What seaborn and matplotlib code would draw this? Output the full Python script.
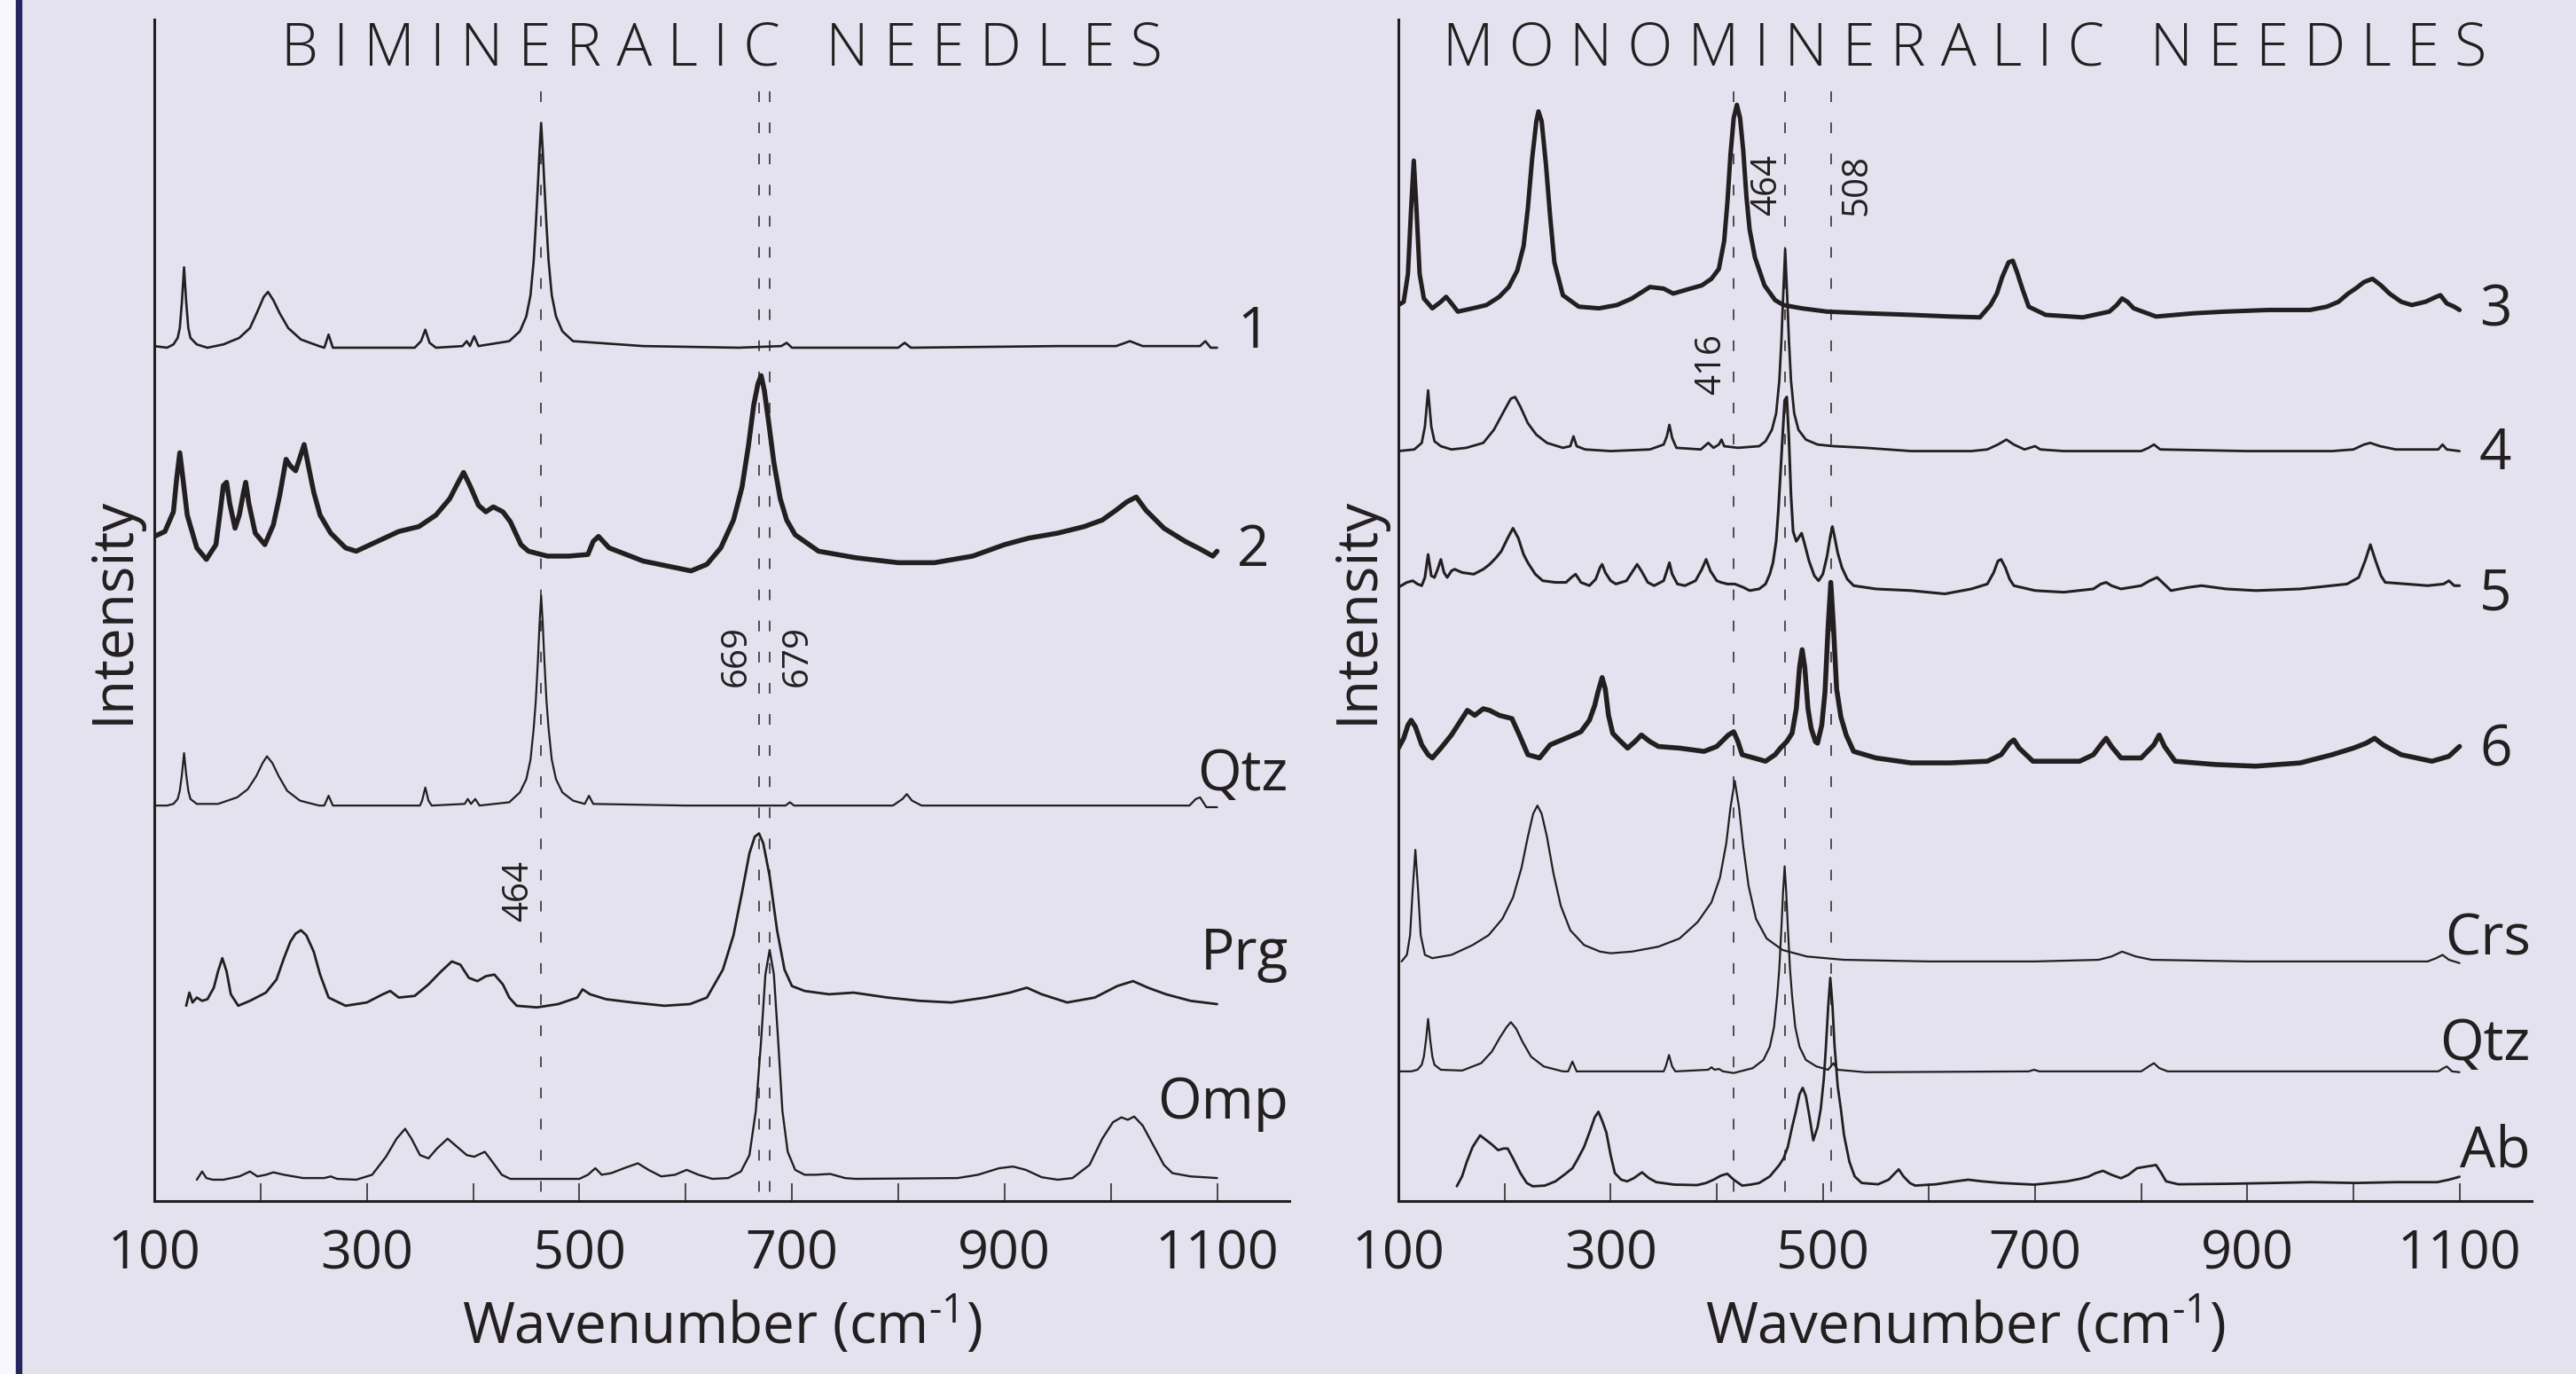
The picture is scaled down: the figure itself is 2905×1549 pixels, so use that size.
import numpy as np
import pandas as pd
import matplotlib
matplotlib.use("Agg")
import matplotlib.pyplot as plt
import seaborn as sns
from matplotlib.patches import Rectangle

# ---------------- data (wavenumber cm-1, intensity in arbitrary offset units) ----------------
spec_1 = [(100,521),(112,520),(118,522),(122,526),(124,532),(126,548),(128,569),(130,548),(132,532),(134,526),
          (140,522),(150,520),(165,522),(180,526),(190,532),(197,542),(203,551),(207,554),(212,549),(218,541),
          (226,532),(238,525),(255,521),(260,520),(264,528),(268,520),(300,520),(345,520),(351,524),(355,531),
          (359,523),(365,520),(390,521),(394,524),(397,521),(401,527),(405,521),(434,524),(444,530),(450,539),
          (454,552),(457,573),(459,595),(461,620),(462.5,640),(464,657),(465.5,640),(467,620),(469,595),(471,573),
          (474,552),(478,539),(484,530),(494,524),(560,521),(650,520),(690,521),(695,523),(700,520),(800,520),
          (806,523),(812,520),(950,521),(1005,521),(1018,524),(1030,521),(1084,521),(1089,524),(1094,520),(1100,520)]

spec_2 = [(100,405),(110,408),(118,420),(121,440),(124,456),(127,440),(131,418),(140,398),(149,391),(158,400),
          (162,420),(165,436),(168,438),(171,425),(176,410),(180,418),(184,432),(186,438),(189,425),(195,407),
          (204,400),(212,412),(218,430),(224,452),(228,448),(233,445),(238,455),(241,461),(245,448),(250,432),
          (256,418),(266,407),(280,398),(290,396),(310,402),(330,408),(349,411),(365,418),(378,428),(386,438),
          (391,444),(397,436),(405,424),(412,420),(419,423),(428,420),(435,414),(445,400),(452,396),(470,393),
          (490,393),(508,394),(513,402),(518,405),(528,398),(560,390),(590,386),(605,384),(620,388),(633,398),
          (645,415),(653,435),(659,460),(664,485),(668,498),(671,503),(674,494),(678,475),(683,450),(689,428),
          (695,415),(703,406),(725,396),(760,392),(800,389),(834,389),(870,393),(900,400),(923,404),(950,407),
          (975,411),(992,415),(1005,421),(1015,426),(1024,429),(1033,421),(1050,410),(1070,402),(1085,397),
          (1096,393),(1100,396)]

qtz_left = [(100,241),(112,241),(118,242),(122,245),(124,250),(126,260),(128,273),(130,260),(132,250),(134,245),
            (140,242),(160,242),(178,246),(188,251),(196,259),(202,267),(206,271),(211,267),(217,259),(225,250),
            (237,244),(255,241),(260,241),(264,247),(268,241),(350,241),(352,244),(355,252),(358,244),(361,241),
            (392,242),(395,245),(398,242),(402,245),(406,241),(434,243),(444,249),(450,257),(454,269),(457,288),
            (459,305),(461,330),(462.5,352),(464,369),(465.5,352),(467,330),(469,305),(471,288),(474,269),(478,257),
            (484,249),(494,244),(505,242),(509,247),(513,242),(600,241),(694,241),(698,243),(702,241),(795,241),
            (804,245),(808,248),(813,244),(822,241),(1074,241),(1080,245),(1084,246),(1090,240),(1100,240)]

prg = [(130,119),(133,127),(136,121),(140,124),(145,122),(150,123),(156,130),(160,140),(164,148),(168,140),
       (172,126),(179,119),(190,122),(205,127),(215,135),(222,148),(228,158),(233,163),(238,165),(243,162),
       (250,152),(256,138),(264,124),(280,119),(300,121),(315,126),(322,128),(330,124),(345,125),(358,132),
       (370,140),(380,146),(388,144),(396,136),(404,134),(412,137),(420,138),(428,132),(434,124),(441,119),
       (460,118),(480,120),(498,124),(503,129),(510,126),(525,123),(550,121),(580,119),(604,120),(620,124),
       (635,141),(645,162),(653,188),(660,212),(665,222),(669,224),(673,218),(679,198),(686,165),(693,141),
       (700,131),(712,128),(735,126),(758,127),(790,124),(820,122),(850,121),(882,124),(905,127),(921,130),
       (935,126),(959,121),(985,124),(1006,131),(1021,134),(1035,130),(1052,126),(1075,122),(1100,120)]

omp = [(140,13),(145,18),(149,14),(155,13),(165,13),(180,15),(190,18),(197,15),(205,16),(212,17.5),
       (222,16),(240,14),(260,14),(266,15),(272,13.5),(290,13),(305,16),(318,27),(328,38),(336,44),
       (342,38),(350,28),(358,26),(366,32),(376,38),(385,33),(394,28),(401,27),(411,30),(418,24),
       (427,16),(435,13.5),(470,13.5),(500,13.5),(508,16),(515,20),(521,16),(530,17),(542,20),(555,23),
       (565,19),(577,15),(590,16),(601,19),(612,16),(625,13.5),(640,14),(652,18),(660,28),(666,55),
       (671,98),(675,138),(679,153),(683,138),(687,98),(691,55),(696,30),(703,19),(712,16),(722,16),
       (736,16.5),(750,14),(760,13.5),(856,14),(875,16),(895,20),(908,21),(920,19),(935,14.5),(950,13),
       (964,14),(980,22),(992,38),(1002,48),(1010,51),(1016,49.5),(1022,51.5),(1030,46),(1040,34),(1050,22),
       (1058,17),(1075,15),(1100,14)]

spec_3 = [(100,546),(105,548),(109,565),(112,605),(114.5,634),(117,605),(120,565),(124,550),(132,544),(140,548),
          (145,551),(150,547),(156,542),(170,544),(183,546),(195,551),(204,557),(212,567),(218,582),(222,605),
          (226,635),(230,658),(232,664),(235,658),(239,632),(243,600),(247,572),(255,552),(270,545),(289,544),
          (306,546),(320,550),(337,557),(350,556),(359,553),(375,556),(386,558),(395,562),(402,568),(407,585),
          (410,608),(413,638),(416,660),(419,668),(422,660),(425,640),(428,612),(431,592),(436,575),(445,558),
          (455,549),(463,546),(480,544),(504,542),(540,541),(584,540),(620,539),(648,538.5),(658,546),(664,553),
          (669,563),(675,572),(679,573),(683,566),(688,556),(694,545),(710,540),(745,538.5),(770,542),(777,546),
          (782,550),(787,548),(793,544),(814,539),(850,541),(879,542),(920,543),(959,543),(975,545),(986,548),
          (995,553),(1002,556),(1010,560),(1018,562),(1026,558),(1034,553),(1045,548),(1055,546),(1068,548),
          (1078,551),(1082,552),(1088,547),(1095,545),(1100,543)]

spec_4 = [(100,457),(115,458),(122,462),(125,472),(128,494),(131,472),(134,463),(140,460),(150,458),(164,459),
          (180,462),(190,470),(200,482),(206,489),(210,490),(215,484),(222,474),(230,467),(240,462),(255,459),
          (262,460),(265,466),(268,460),(276,458),(300,457),(337,458),(350,461),(353,466),(355.4,473),(358,465),
          (362,459),(385,458),(392,462),(397,459),(402,461),(404.5,464),(407,460),(420,459),(440,460),(446,463),
          (452,470),(456,480),(459,500),(461,525),(462.5,550),(464.5,580),(466.5,550),(468,525),(470,500),
          (473,480),(477,470),(484,464),(495,461),(510,460),(540,459),(583,457),(640,457),(655,458),(665,461),
          (673,464),(680,461),(690,458),(700,460),(705,458),(727,457),(800,457),(807,459),(812,461),(818,458),
          (900,457),(980,457),(1000,458),(1010,461),(1016,462),(1025,460),(1040,458),(1080,458),(1084,461),
          (1088,458),(1100,457)]

spec_5 = [(100,374),(108,377),(113.5,378),(118,376),(122,375),(125,380),(128,394),(131,381),(134,380),(137,385),
          (140,391),(143,383),(146,380),(150,384),(153,385),(160,383),(171,382),(180,385),(186,388),(192,392),
          (197,396),(203,404),(208,410),(213,404),(218,394),(222,389),(229,382),(236,378),(248,377),(258,377),
          (263,380),(267,382),(272,377),(280,375),(286,379),(290,386),(292,388),(295,383),(300,378),(305,376),
          (315,378),(321,384),(325,388),(329,384),(335,377),(341,375),(350,378),(353,384),(355.4,389),(358,382),
          (363,376),(370,375),(380,378),(386,385),(390,391),(394,384),(400,378),(404,377),(410,376),(417,376),
          (425,374),(431,372),(440,373),(446,376),(450,382),(453,389),(456,402),(458,420),(460,443),(462,465),
          (464,488),(466,490),(468,465),(470,430),(472,408),(475,402),(478,405),(480,407),(483,400),(487,390),
          (492,381),(496,378),(500,382),(504,393),(507,405),(509,411),(511,405),(514,395),(518,386),(523,379),
          (529,375),(550,373),(583,372),(615,370),(640,373),(655,376),(661,383),(665,390),(668,391),(672,386),
          (676,379),(680,375),(700,372),(727,371),(755,373),(762,376),(767,377),(772,375),(781,373),(800,375),
          (808,378),(815,380),(820,377),(828,372),(845,374),(857,375),(880,373),(908,372),(950,373),(994,376),
          (1005,380),(1011,390),(1016,400),(1021,390),(1026,381),(1030,377),(1050,376),(1070,375),(1085,376),
          (1090,378),(1095,375),(1100,375)]

spec_6 = [(100,276),(105,282),(109,290),(112,293),(116,289),(122,278),(128,272),(132,270),(140,276),(150,284),
          (158,292),(165,299),(172,296),(180,300),(186,299),(195,296),(207,294),(214,284),(222,272),(233,270),
          (243,278),(254,281),(265,284),(272,286),(280,293),(285,302),(288,310),(292,319),(295,312),(298,296),
          (302,285),(308,281),(316,276),(323,280),(329,284),(337,280),(345,277),(365,276),(388,274),(400,277),
          (411,284),(416,286),(420,280),(424,272),(435,270),(446,268),(455,272),(460,276),(466,280),(471,285),
          (475,300),(478,325),(480.5,336),(483,325),(486,300),(489,288),(493,280),(495,279),(499,290),(502,310),
          (505,350),(507.5,377),(510,350),(513,312),(517,295),(522,284),(529,274),(550,270),(583,267),(620,267),
          (655,268),(668,272),(676,279),(680,281),(685,276),(698,268),(742,268),(755,272),(762,278),(767,282),
          (772,277),(781,270),(800,270),(812,278),(817,284),(822,277),(832,268),(870,266),(908,265),(950,267),
          (980,272),(1000,276),(1012,279),(1020,282),(1028,278),(1045,272),(1074,268),(1090,271),(1100,277)]

crs = [(103,146),(108,150),(111,162),(113.5,190),(116,214),(118.5,190),(121,162),(125,150),(132,148),(150,150),
       (170,156),(185,162),(198,172),(208,185),(216,203),(222,222),(227,236),(231,241),(235,236),(240,222),
       (246,200),(253,180),(262,165),(275,156),(290,152),(300,151),(320,152),(345,155),(365,160),(382,170),
       (395,182),(403,197),(409,218),(413,240),(417,256),(421,240),(425,216),(430,192),(437,172),(447,160),
       (462,153),(485,149),(520,147),(600,146),(700,146),(760,147),(772,149),(782,152),(795,149),(810,147),
       (900,146),(1000,146),(1070,146),(1078,148),(1084,150),(1090,147),(1100,145)]

qtz_right = [(100,79),(112,79),(118,80),(122,83),(124,88),(126,98),(128,111),(130,98),(132,88),(134,83),
             (140,80),(160,79.5),(178,84),(188,91),(196,100),(202,106),(206,109),(211,105),(217,97),(225,88),
             (237,82),(255,79),(260,79),(264,85),(268,79),(350,79),(352,82),(355,89),(358,82),(361,79),
             (392,80),(395,81.5),(398,80),(402,80.5),(406,79),(416,78),(434,81),(444,86),(450,94),(454,106),
             (457,125),(459,142),(461,167),(462.5,188),(464,204),(465.5,188),(467,167),(469,142),(471,125),
             (474,106),(478,94),(484,86),(494,82),(505,80),(510,84),(514,80),(540,78.5),(694,79),(699,80),
             (704,79),(800,79),(807,82),(812,84),(817,81),(825,79),(1080,79),(1085,81),(1088,82),(1093,79),
             (1100,78.5)]

ab = [(155,9),(160,15),(164.5,24),(170,33),(177,40),(183,37),(188,34.5),(194,31),(199,32),(203,32),
      (208,26),(215,17),(221,11),(226.5,9),(238,9.4),(248,12),(257.5,16.6),(264,20),(269,25.6),(275,33),
      (281,43.5),(285,51),(288.5,54.4),(292,49),(296,41.7),(300,28),(304,17),(310,13),(315.6,12),(322,14),
      (329.6,17.5),(336,14),(343,11.5),(360,10),(381.5,9.7),(390,11),(397,13),(404,15.5),(410,16.6),(416,13),
      (424,9.4),(432,10),(440,11),(450,15),(459,22),(463,26),(467,33),(471,45),(474.5,54.4),(478,65),
      (481,69),(484,64),(487,53),(491,37),(495,45),(498,56),(501,75),(503,95),(505,118),(507,136),
      (509,120),(511,95),(514,70),(517,56),(520,40),(525,24),(530,15),(536.6,11),(552,10.2),(562,13),
      (568,17),(571.5,19.3),(576,15),(582,11),(587,9.4),(606.5,10.2),(625,12),(637,13),(650,12),(668,11),
      (699,10),(715,11),(730,12),(742,13.5),(750,14.8),(757,17),(764,18.4),(772,16),(781,13.9),(788,16),
      (796,20),(805,21),(810,21.5),(814,22),(819,17),(823.5,12),(835,10.2),(880,10.5),(924,11),(960,11.5),
      (1002,11),(1040,11.5),(1079,11.5),(1090,13),(1100,14.8)]

# spectrum label text and label anchor (wavenumber, intensity)
left_names   = ["1", "2", "Qtz", "Prg", "Omp"]
left_label_x = [1134, 1134, 1167, 1167, 1167]
left_label_y = [520, 387, 250, 141, 50]
right_names   = ["3", "4", "5", "6", "Crs", "Qtz", "Ab"]
right_label_x = [1134, 1134, 1134, 1134, 1167, 1167, 1167]
right_label_y = [533, 446, 360, 265, 150, 86, 21]

left_refs = [464, 669, 679]
left_ref_text = ["464", "669", "679"]
left_ref_text_x = [443, 648, 705]
left_ref_text_y = [189, 332, 332]
right_refs = [416, 464, 508]
right_ref_text = ["416", "464", "508"]
right_ref_text_x = [395, 447.5, 532.5]
right_ref_text_y = [510, 619, 619]

tick_values = [100, 200, 300, 400, 500, 600, 700, 800, 900, 1000, 1100]
tick_labels = ["100", "", "300", "", "500", "", "700", "", "900", "", "1100"]
titles = ["BIMINERALIC NEEDLES", "MONOMINERALIC NEEDLES"]

# ---------------- style ----------------
sns.set_theme(style="white")
plt.rcParams["font.family"] = ["Open Sans", "DejaVu Sans"]
plt.rcParams["mathtext.fontset"] = "custom"
plt.rcParams["mathtext.rm"] = "Open Sans"
plt.rcParams["mathtext.it"] = "Open Sans:italic"
plt.rcParams["mathtext.bf"] = "Open Sans:bold"

BG = "#e3e2ee"
INK = "#231f20"
W, H = 2905, 1549
fig = plt.figure(figsize=(W / 100, H / 100), dpi=100, facecolor=BG)
fig.patches.append(Rectangle((0, 0), 18 / W, 1, transform=fig.transFigure, color="#f8f7fd", zorder=0))
fig.patches.append(Rectangle((18 / W, 0), 6 / W, 1, transform=fig.transFigure, color="#27235e", zorder=0))

axL = fig.add_axes([174 / W, 195 / H, 1280 / W, 1332 / H])
axR = fig.add_axes([1577 / W, 195 / H, 1278 / W, 1332 / H])

FS = 46


def spaced(t):
    return "   ".join(" ".join(list(w)) for w in t.split(" "))


def draw_panel(ax, spectra, names, lws, lab_x, lab_y, refs, ref_txt, ref_x, ref_y, title):
    for pts, name, lw in zip(spectra, names, lws):
        df = pd.DataFrame(pts, columns=["wn", "I"])
        sns.lineplot(data=df, x="wn", y="I", ax=ax, color=INK, lw=lw,
                     sort=False, estimator=None, zorder=3)
    for name, x, y in zip(names, lab_x, lab_y):
        ha = "center" if name.isdigit() else "right"
        ax.text(x, y, name, ha=ha, va="baseline", fontsize=FS, color=INK)
    ax.vlines(refs, 676, 0, colors=INK, lw=1.08, linestyles=[(0, (8, 15.4))], zorder=2)
    for t, x, y in zip(ref_txt, ref_x, ref_y):
        ax.text(x, y, t, rotation=90, ha="center", va="center", fontsize=29, color=INK)
    ax.text(634, 692, spaced(title), ha="center", va="baseline", fontsize=48,
            fontweight="light", color=INK)

    ax.set_xlim(100, 1168)
    ax.set_ylim(0, 720)
    ax.set_facecolor("none")
    for s in ["top", "right"]:
        ax.spines[s].set_visible(False)
    for s in ["left", "bottom"]:
        ax.spines[s].set_linewidth(2.2)
        ax.spines[s].set_color(INK)
    ax.set_yticks([])
    ax.set_xticks(tick_values)
    ax.set_xticklabels(tick_labels)
    ax.tick_params(axis="x", direction="in", length=14.4, width=1.1, pad=22,
                   labelsize=44, colors=INK, bottom=True)
    ax.set_xlabel("Wavenumber (cm$^{\\text{-}1}$)", fontsize=FS, color=INK)
    ax.xaxis.label.set_va("baseline")
    ax.xaxis.set_label_coords(0.5, -(1515 - 1354) / 1332)
    ax.set_ylabel("Intensity", fontsize=FS, color=INK)
    ax.yaxis.label.set_va("center")
    ax.yaxis.set_label_coords(-0.036, 0.5)


draw_panel(axL, [spec_1, spec_2, qtz_left, prg, omp], left_names,
           [1.9, 4.0, 1.6, 2.0, 1.7], left_label_x, left_label_y,
           left_refs, left_ref_text, left_ref_text_x, left_ref_text_y, titles[0])
draw_panel(axR, [spec_3, spec_4, spec_5, spec_6, crs, qtz_right, ab], right_names,
           [3.6, 2.0, 2.2, 4.0, 1.6, 1.6, 2.0], right_label_x, right_label_y,
           right_refs, right_ref_text, right_ref_text_x, right_ref_text_y, titles[1])

fig.savefig("out.png", dpi=100, facecolor=BG)
